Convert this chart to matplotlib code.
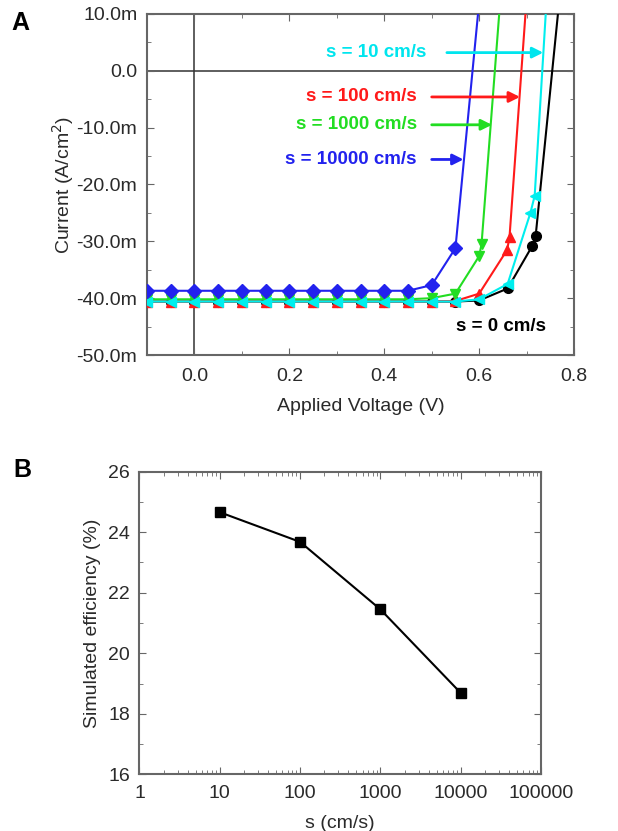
import numpy as np
import matplotlib.pyplot as plt
from matplotlib.ticker import FuncFormatter, MultipleLocator, LogLocator, NullFormatter

plt.rcParams['font.family'] = ['Liberation Sans', 'DejaVu Sans']

# ---- Panel A data: J-V curves (current in mA/cm^2, shown as "m") ----
v_flat = [-0.1, -0.05, 0.0, 0.05, 0.1, 0.15, 0.2, 0.25, 0.3, 0.35, 0.4, 0.45]

v_10000 = v_flat + [0.5, 0.55, 0.6]
j_10000 = [-38.7] * 12 + [-37.7, -31.2, 12.1]

v_1000 = v_flat + [0.5, 0.55, 0.6, 0.605, 0.645]
j_1000 = [-40.2] * 12 + [-40.0, -39.2, -32.6, -30.5, 13.0]

v_100 = v_flat + [0.5, 0.55, 0.6, 0.659, 0.664, 0.70]
j_100 = [-40.6] * 12 + [-40.6, -40.5, -39.2, -31.5, -29.2, 12.8]

v_10 = v_flat + [0.5, 0.55, 0.6, 0.66, 0.708, 0.717, 0.745]
j_10 = [-40.6] * 12 + [-40.6, -40.6, -40.2, -37.5, -25.0, -22.0, 16.5]

v_0 = v_flat + [0.5, 0.55, 0.6, 0.66, 0.712, 0.719, 0.77]
j_0 = [-40.6] * 12 + [-40.6, -40.6, -40.4, -38.3, -30.8, -29.1, 13.3]

# ---- Panel B data: efficiency vs recombination velocity ----
s_vals = [10, 100, 1000, 10000]
eff = [24.66, 23.68, 21.45, 18.69]

tick_c = '#2a2a2a'
spine_c = '#666666'
fs = 14

fig = plt.figure(figsize=(6.18, 8.31), dpi=100)

# ================= Panel A =================
ax = fig.add_axes([0.2379, 0.5728, 0.691, 0.4104])
ax.axvline(0, color='#333333', lw=1.1, zorder=1)
ax.axhline(0, color='#333333', lw=1.1, zorder=1)

series = [
    (v_0, j_0, 'black', 'o'),
    (v_100, j_100, '#ff1a1a', '^'),
    (v_1000, j_1000, '#22dd22', 'v'),
    (v_10000, j_10000, '#2222ee', 'D'),
    (v_10, j_10, '#00eeee', '<'),
]
for v, j, c, m in series:
    ax.plot(v, j, color=c, marker=m, ms=7, lw=1.5, zorder=3)

ax.set_xlim(-0.1, 0.8)
ax.set_ylim(-50, 10)
ax.xaxis.set_major_locator(MultipleLocator(0.2))
ax.xaxis.set_minor_locator(MultipleLocator(0.1))
ax.yaxis.set_major_locator(MultipleLocator(10))
ax.yaxis.set_minor_locator(MultipleLocator(5))
ax.xaxis.set_major_formatter(FuncFormatter(lambda x, p: f'{x:.1f}'))
ax.yaxis.set_major_formatter(
    FuncFormatter(lambda y, p: '0.0' if abs(y) < 1e-9 else f'{y:.1f}m'))
ax.tick_params(which='both', direction='in', top=True, right=True,
               colors=spine_c, labelcolor=tick_c, labelsize=fs)
ax.tick_params(which='major', length=5)
ax.tick_params(which='minor', length=3)
ax.tick_params(axis='x', pad=9)
ax.tick_params(axis='y', pad=7)
for s in ax.spines.values():
    s.set_color(spine_c)
    s.set_linewidth(1.5)
ax.set_xlabel('Applied Voltage (V)', fontsize=fs, color=tick_c, labelpad=10)
ax.set_ylabel('Current (A/cm$^2$)', fontsize=fs, color=tick_c, labelpad=0)

labels = [
    ('s = 10 cm/s', '#00e5ee', 0.489, 3.2, 0.532, 0.735),
    ('s = 100 cm/s', '#ff1a1a', 0.469, -4.6, 0.50, 0.686),
    ('s = 1000 cm/s', '#22dd22', 0.469, -9.5, 0.50, 0.627),
    ('s = 10000 cm/s', '#2222ee', 0.468, -15.6, 0.50, 0.567),
]
for txt, c, tx, ty, ax0, ax1 in labels:
    ax.text(tx, ty, txt, color=c, fontsize=13.5, fontweight='bold',
            ha='right', va='center')
    ax.annotate('', xy=(ax1, ty), xytext=(ax0, ty),
                arrowprops=dict(arrowstyle='-|>', color=c, lw=2,
                                mutation_scale=16, shrinkA=0, shrinkB=0))
ax.text(0.741, -45.0, 's = 0 cm/s', color='black', fontsize=13.5,
        fontweight='bold', ha='right', va='center')

fig.text(0.018, 0.972, 'A', fontsize=18, fontweight='bold', va='center')

# ================= Panel B =================
bx = fig.add_axes([0.2257, 0.0682, 0.6497, 0.3642])
bx.plot(s_vals, eff, color='black', marker='s', ms=6.5, lw=1.5)
bx.set_xscale('log')
bx.set_xlim(1, 100000)
bx.set_ylim(16, 26)
bx.xaxis.set_major_locator(LogLocator(base=10, numticks=10))
bx.xaxis.set_minor_locator(LogLocator(base=10, subs=np.arange(2, 10), numticks=20))
bx.xaxis.set_minor_formatter(NullFormatter())
bx.xaxis.set_major_formatter(FuncFormatter(lambda x, p: f'{int(round(x))}'))
bx.yaxis.set_major_locator(MultipleLocator(2))
bx.yaxis.set_minor_locator(MultipleLocator(1))
bx.tick_params(which='both', direction='in', top=True, right=True,
               colors=spine_c, labelcolor=tick_c, labelsize=fs)
bx.tick_params(which='major', length=5)
bx.tick_params(which='minor', length=3)
bx.tick_params(axis='x', pad=8)
bx.tick_params(axis='y', pad=7)
for s in bx.spines.values():
    s.set_color(spine_c)
    s.set_linewidth(1.5)
bx.set_xlabel('s (cm/s)', fontsize=fs, color=tick_c, labelpad=9)
bx.set_ylabel('Simulated efficiency (%)', fontsize=fs, color=tick_c, labelpad=5)

fig.text(0.022, 0.435, 'B', fontsize=18, fontweight='bold', va='center')

fig.savefig('out.png', dpi=100)
